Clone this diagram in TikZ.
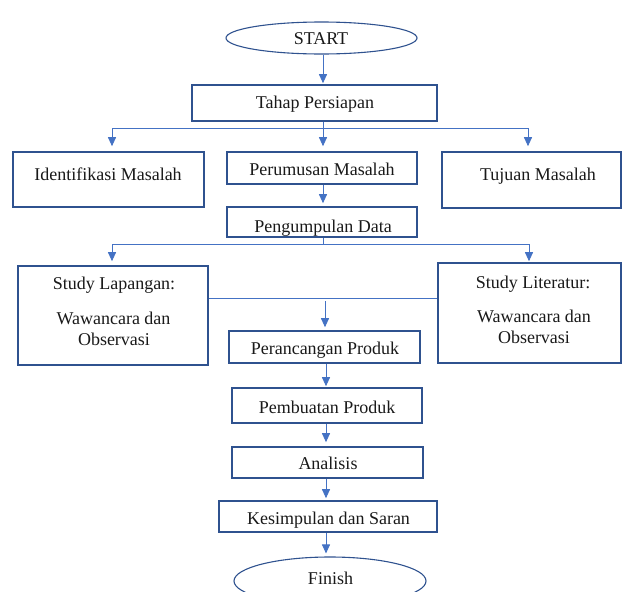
\documentclass[tikz,border=0pt]{standalone}
\usepackage{fontspec}
\setmainfont{Liberation Serif}
\usetikzlibrary{arrows.meta,shapes.geometric}
\definecolor{arrowblue}{HTML}{4472C4}
\definecolor{boxblue}{HTML}{2F528F}
\begin{document}
\begin{tikzpicture}[x=1pt,y=-1pt,
  box/.style={draw=boxblue,line width=1.6pt,inner sep=0pt},
  oval/.style={ellipse,draw=boxblue,line width=1.1pt,inner sep=0pt},
  conn/.style={draw=arrowblue,line width=0.9pt},
  arr/.style={conn,-{Triangle[width=8pt,length=9pt]}},
  txt/.style={anchor=base,inner sep=0pt,font=\fontsize{18}{21}\selectfont,text=black!90}]
\useasboundingbox (0,0) rectangle (622,592);
\clip (0,0) rectangle (622,592);
% shapes
\node[oval,minimum width=191pt,minimum height=32pt] (start) at (321.5,38) {};
\node[box,minimum width=245pt,minimum height=36pt] (tahap) at (314.5,103) {};
\node[box,minimum width=191pt,minimum height=55pt] (ident) at (108.5,179.5) {};
\node[box,minimum width=190pt,minimum height=32pt] (perum) at (322,168) {};
\node[box,minimum width=179pt,minimum height=56pt] (tujuan) at (531.5,180) {};
\node[box,minimum width=190pt,minimum height=30pt] (pengum) at (322,222) {};
\node[box,minimum width=190pt,minimum height=99pt] (lap) at (113,315.5) {};
\node[box,minimum width=183pt,minimum height=100pt] (lit) at (529.5,313) {};
\node[box,minimum width=191pt,minimum height=32pt] (peranc) at (324.5,347) {};
\node[box,minimum width=190pt,minimum height=35pt] (pembuat) at (327,405.5) {};
\node[box,minimum width=191pt,minimum height=31pt] (analisis) at (327.5,462.5) {};
\node[box,minimum width=218pt,minimum height=31pt] (kesimp) at (328,516.5) {};
\node[oval,minimum width=192pt,minimum height=48pt] (finish) at (330,581) {};
% texts
\node[txt] (tStart) at (321,44) {START};
\node[txt] (tTahap) at (315,108) {Tahap Persiapan};
\node[txt] (tIdent) at (108,180) {Identifikasi Masalah};
\node[txt] (tPerum) at (322,175) {Perumusan Masalah};
\node[txt] (tTujuan) at (538,180) {Tujuan Masalah};
\node[txt] (tPengum) at (323,232) {Pengumpulan Data};
\node[txt] (tLap1) at (114,289) {Study Lapangan:};
\node[txt] (tLap2) at (113.5,324) {Wawancara dan};
\node[txt] (tLap3) at (114,345) {Observasi};
\node[txt] (tLit1) at (533,288) {Study Literatur:};
\node[txt] (tLit2) at (534,322) {Wawancara dan};
\node[txt] (tLit3) at (534,343) {Observasi};
\node[txt] (tPeranc) at (325,354) {Perancangan Produk};
\node[txt] (tPembuat) at (327,413) {Pembuatan Produk};
\node[txt] (tAnalisis) at (328,469) {Analisis};
\node[txt] (tKesimp) at (328.5,524) {Kesimpulan dan Saran};
\node[txt] (tFinish) at (330.5,584) {Finish};
% junctions
\coordinate (sx) at (323,0);
\coordinate (j1) at (323,128);
\coordinate (j1L) at (112,128);
\coordinate (j1R) at (528,128);
\coordinate (j2) at (323,244);
\coordinate (j2L) at (112,244);
\coordinate (j2R) at (529,244);
\coordinate (mh) at (325,298);
\coordinate (ma) at (325,301);
\coordinate (ax) at (326,0);
% connectors
\draw[arr,shorten >=1pt] (start.south -| sx) -- (tahap.north -| sx);
\draw[conn] (tahap.south -| j1) -- (j1);
\draw[conn] (j1L) -- (j1R);
\draw[arr,shorten >=5pt] (j1L) -- (ident.north -| j1L);
\draw[arr,shorten >=5pt] (j1) -- (perum.north -| j1);
\draw[arr,shorten >=5pt] (j1R) -- (tujuan.north -| j1R);
\draw[arr,shorten >=3pt] (perum.south -| j1) -- (pengum.north -| j1);
\draw[conn] (pengum.south -| j2) -- (j2);
\draw[conn] (j2L) -- (j2R);
\draw[arr,shorten >=4pt] (j2L) -- (lap.north -| j2L);
\draw[arr,shorten >=1pt] (j2R) -- (lit.north -| j2R);
\draw[conn] (lap.east |- mh) -- (lit.west |- mh);
\draw[arr,shorten >=3pt] (ma) -- (peranc.north -| ma);
\draw[arr,shorten >=1pt] (peranc.south -| ax) -- (pembuat.north -| ax);
\draw[arr,shorten >=4pt] (pembuat.south -| ax) -- (analisis.north -| ax);
\draw[arr,shorten >=2pt] (analisis.south -| ax) -- (kesimp.north -| ax);
\draw[arr,shorten >=3pt] (kesimp.south -| ax) -- (finish.north -| ax);
\end{tikzpicture}
\end{document}
